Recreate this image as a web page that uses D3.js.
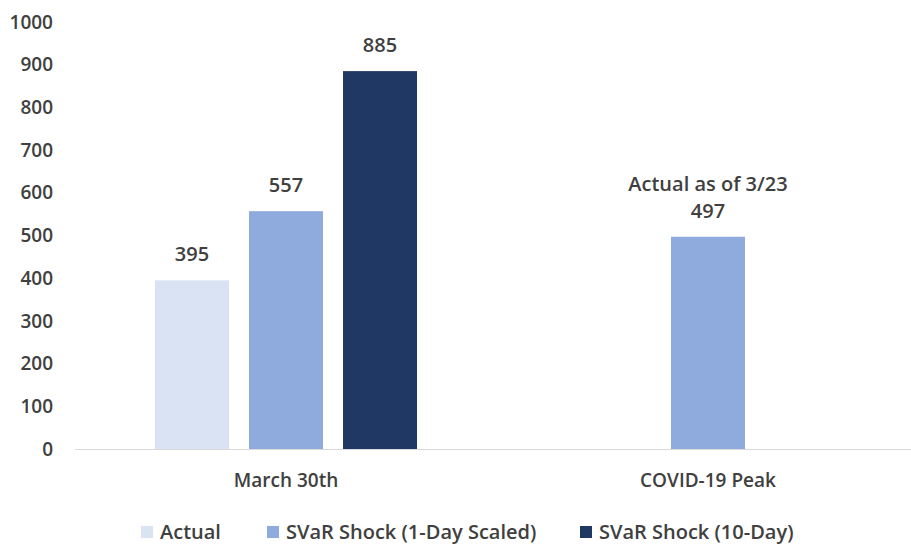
<!DOCTYPE html>
<meta charset="utf-8">
<style>
    body { margin: 0; background: #fff; }
    text { font-family: "Open Sans", "Noto Sans", sans-serif; font-weight: 600; fill: #404040; }
</style>
<body>
<script src="https://cdn.jsdelivr.net/npm/d3@7"></script>
<script>
    var categories = ["March 30th", "COVID-19 Peak"]
    var seriesNames = ["Actual", "SVaR Shock (1-Day Scaled)", "SVaR Shock (10-Day)"]
    var seriesColors = ["#dae3f3", "#8faadc", "#203864"]
    // null = no bar in that slot
    var actualVals = [395, null]
    var svar1Vals = [557, 497]
    var svar10Vals = [885, null]
    var yTicks = [0, 100, 200, 300, 400, 500, 600, 700, 800, 900, 1000]
    var extraLabel = {cat: "COVID-19 Peak", series: 1, text: "Actual as of 3/23"}

    var width = 911, height = 544
    var svg = d3.select("body").append("svg")
        .attr("width", width)
        .attr("height", height)

    var x = d3.scaleBand()
        .domain(categories)
        .range([75, 919])
    var xs = d3.scaleBand()
        .domain(d3.range(seriesNames.length))
        .range([0, x.bandwidth()])
        .paddingInner(0.213)
        .paddingOuter(0.851)
    var y = d3.scaleLinear()
        .domain([0, 1000])
        .range([449, 22])

    // y axis labels
    svg.append("g").selectAll("text")
        .data(yTicks)
        .enter().append("text")
        .attr("x", 53)
        .attr("y", d => y(d))
        .attr("dy", "0.35em")
        .attr("text-anchor", "end")
        .style("font-size", "19px")
        .text(d => d)

    var allVals = [actualVals, svar1Vals, svar10Vals]
    var bars = []
    categories.forEach(function(c, i) {
        allVals.forEach(function(vals, s) {
            if (vals[i] != null) bars.push({cat: c, s: s, v: vals[i]})
        })
    })

    svg.append("g").selectAll("rect")
        .data(bars)
        .enter().append("rect")
        .attr("x", d => x(d.cat) + xs(d.s))
        .attr("y", d => y(d.v))
        .attr("width", xs.bandwidth())
        .attr("height", d => y(0) - y(d.v))
        .attr("fill", d => seriesColors[d.s])

    // baseline
    svg.append("line")
        .attr("x1", 75).attr("x2", width)
        .attr("y1", y(0) + 0.5).attr("y2", y(0) + 0.5)
        .attr("stroke", "#d9d9d9")
        .attr("stroke-width", 1)

    // value labels
    svg.append("g").selectAll("text")
        .data(bars)
        .enter().append("text")
        .attr("x", d => x(d.cat) + xs(d.s) + xs.bandwidth() / 2)
        .attr("y", d => y(d.v) - 26)
        .attr("dy", "0.35em")
        .attr("text-anchor", "middle")
        .style("font-size", "20px")
        .text(d => d.v)

    svg.append("text")
        .attr("x", x(extraLabel.cat) + xs(extraLabel.series) + xs.bandwidth() / 2)
        .attr("y", y(svar1Vals[1]) - 53)
        .attr("dy", "0.35em")
        .attr("text-anchor", "middle")
        .style("font-size", "20px")
        .text(extraLabel.text)

    // category labels
    svg.append("g").selectAll("text")
        .data(categories)
        .enter().append("text")
        .attr("x", d => x(d) + x.bandwidth() / 2)
        .attr("y", 480)
        .attr("dy", "0.35em")
        .attr("text-anchor", "middle")
        .style("font-size", "19px")
        .text(d => d)

    // legend
    var legendX = [141, 267, 580]
    var leg = svg.append("g").selectAll("g")
        .data(seriesNames)
        .enter().append("g")
        .attr("transform", (d, i) => "translate(" + legendX[i] + ",532)")
    leg.append("rect")
        .attr("x", 0).attr("y", -6)
        .attr("width", 12).attr("height", 12)
        .attr("fill", (d, i) => seriesColors[i])
    leg.append("text")
        .attr("x", 19)
        .attr("dy", "0.35em")
        .style("font-size", "20px")
        .text(d => d)
</script>
</body>
